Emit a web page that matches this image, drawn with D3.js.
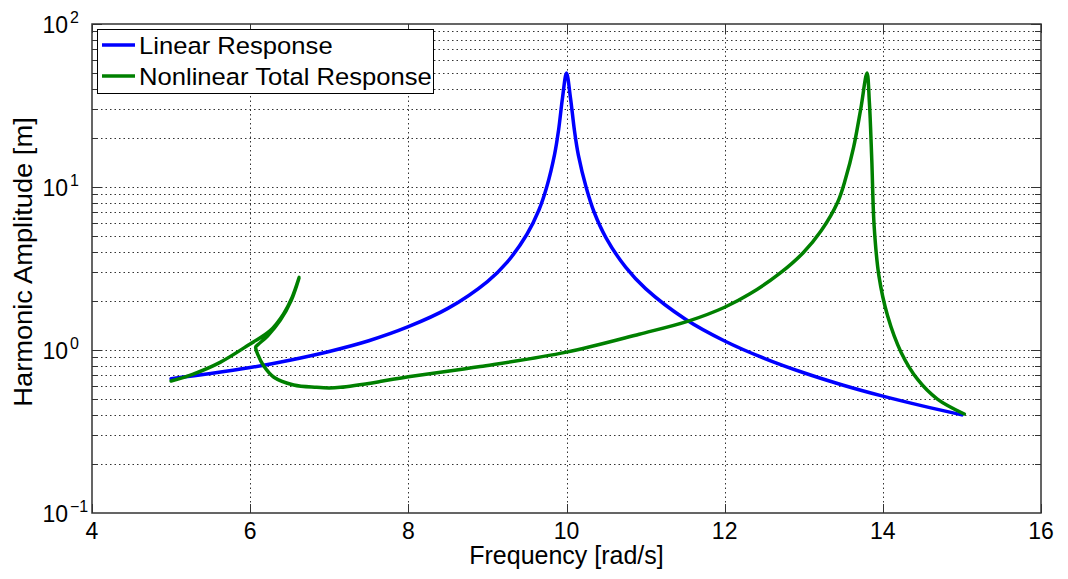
<!DOCTYPE html>
<html>
<head>
<meta charset="utf-8">
<script src="https://d3js.org/d3.v7.min.js"></script>
<style>
  body { margin: 0; background: #fff; }
  text { font-family: "Liberation Sans", Arial, sans-serif; fill: #000; }
</style>
</head>
<body>
<svg width="1068" height="579"></svg>
<script>
// frequency [rad/s] and amplitude [m]
var linearFreq = [5.0, 5.5, 6.0, 6.5, 7.0, 7.5, 8.0, 8.5, 9.0, 9.25, 9.5, 9.65, 9.75, 9.85, 9.9, 9.95, 10.0,
  10.05, 10.1, 10.15, 10.25, 10.35, 10.5, 10.75, 11.0, 11.5, 12.0, 12.5, 13.0, 13.5, 14.0, 14.5, 15.0];
var linearAmp = [0.667, 0.717, 0.78, 0.866, 0.98, 1.14, 1.39, 1.80, 2.63, 3.46, 5.13, 7.2, 10.0, 15.9, 22.4, 35.4, 50,
  35.3, 22.3, 15.7, 9.9, 7.0, 4.88, 3.21, 2.38, 1.55, 1.136, 0.889, 0.725, 0.608, 0.521, 0.454, 0.40];

var nonlinFreq = [5.0, 5.28, 5.62, 6.0, 6.25, 6.42, 6.53, 6.62,
  6.52, 6.38, 6.22, 6.10, 6.07, 6.10, 6.17, 6.30, 6.55, 6.84, 7.0, 7.14, 7.64, 8.0, 8.91, 10.0, 10.92, 11.55,
  12.0, 12.32, 12.70, 12.99, 13.22, 13.43, 13.53, 13.63, 13.72, 13.80,
  13.83, 13.86, 13.89, 13.95, 14.06, 14.23, 14.44, 14.69, 15.03];
var nonlinAmp = [0.645, 0.712, 0.84, 1.09, 1.31, 1.66, 2.10, 2.79,
  2.02, 1.52, 1.22, 1.08, 1.04, 0.93, 0.80, 0.68, 0.61, 0.59, 0.585, 0.59, 0.64, 0.686, 0.792, 0.97, 1.25, 1.51,
  1.83, 2.21, 2.96, 3.94, 5.39, 8.1, 11.3, 17.5, 30, 50,
  33, 14.8, 5.78, 2.86, 1.62, 0.97, 0.66, 0.50, 0.405];

var xTicks = [4, 6, 8, 10, 12, 14, 16];
var yDecades = [-1, 0, 1, 2];
var seriesNames = ["Linear Response", "Nonlinear Total Response"];
var seriesColors = ["#0000ff", "#008000"];

var svg = d3.select("svg");
var pl = 92, pr = 1041, pt = 24, pb = 513;

var x = d3.scaleLinear().domain([4, 16]).range([pl, pr]);
var y = d3.scaleLog().domain([0.1, 100]).range([pb, pt]);

// minor + major horizontal grid
var yGrid = [];
yDecades.slice(0, 3).forEach(function(e) {
  for (var m = 1; m < 10; m++) yGrid.push(m * Math.pow(10, e));
});
yGrid = yGrid.filter(function(v) { return v > 0.1; });

var grid = svg.append("g").attr("stroke", "#333").attr("stroke-width", 1)
  .attr("stroke-dasharray", "1.5,3");
grid.selectAll(".hg").data(yGrid).enter().append("line")
  .attr("x1", pl).attr("x2", pr)
  .attr("y1", function(d) { return Math.round(y(d)) + 0.5; })
  .attr("y2", function(d) { return Math.round(y(d)) + 0.5; });
grid.selectAll(".vg").data(xTicks.slice(1, -1)).enter().append("line")
  .attr("y1", pt).attr("y2", pb)
  .attr("x1", function(d) { return Math.round(x(d)) + 0.5; })
  .attr("x2", function(d) { return Math.round(x(d)) + 0.5; });

// ticks (inward, all four sides)
var ticks = svg.append("g").attr("stroke", "#333").attr("stroke-width", 1);
xTicks.forEach(function(d) {
  var px = Math.round(x(d)) + 0.5;
  ticks.append("line").attr("x1", px).attr("x2", px).attr("y1", pb).attr("y2", pb - 9);
  ticks.append("line").attr("x1", px).attr("x2", px).attr("y1", pt).attr("y2", pt + 9);
});
yGrid.concat([100]).forEach(function(d) {
  var py = Math.round(y(d)) + 0.5;
  var major = Math.abs(Math.log10(d) - Math.round(Math.log10(d))) < 1e-9;
  var len = major ? 10 : 6;
  ticks.append("line").attr("x1", pl).attr("x2", pl + len).attr("y1", py).attr("y2", py);
  ticks.append("line").attr("x1", pr).attr("x2", pr - len).attr("y1", py).attr("y2", py);
});

// axes box
svg.append("rect").attr("x", pl).attr("y", pt)
  .attr("width", pr - pl).attr("height", pb - pt)
  .attr("fill", "none").attr("stroke", "#333").attr("stroke-width", 1.5);

// tick labels
svg.append("g").selectAll("text").data(xTicks).enter().append("text")
  .attr("x", function(d) { return x(d); }).attr("y", 539)
  .attr("text-anchor", "middle").attr("font-size", 23)
  .text(function(d) { return d; });

var yl = svg.append("g");
yDecades.forEach(function(e) {
  var py = y(Math.pow(10, e));
  yl.append("text").attr("x", 68).attr("y", py + 9).attr("text-anchor", "end")
    .attr("font-size", 23).text("10");
  yl.append("text").attr("x", 70).attr("y", py - 1).attr("font-size", 16)
    .text(e < 0 ? "\u2212" + (-e) : e);
});

// axis labels
svg.append("text").attr("x", (pl + pr) / 2).attr("y", 564)
  .attr("text-anchor", "middle").attr("font-size", 25).text("Frequency [rad/s]");
svg.append("text").attr("transform", "translate(32,262) rotate(-90) scale(1.07,1)")
  .attr("text-anchor", "middle").attr("font-size", 25.5).text("Harmonic Amplitude [m]");

// curves
var line = d3.line()
  .x(function(d) { return x(d[0]); })
  .y(function(d) { return y(d[1]); })
  .curve(d3.curveCatmullRom.alpha(0.5));

var series = [d3.zip(linearFreq, linearAmp), d3.zip(nonlinFreq, nonlinAmp)];
svg.append("g").selectAll("path").data(series).enter().append("path")
  .attr("d", line)
  .attr("fill", "none")
  .attr("stroke", function(d, i) { return seriesColors[i]; })
  .attr("stroke-width", 3.5)
  .attr("stroke-linejoin", "round")
  .attr("stroke-linecap", "round");

// legend
var lg = svg.append("g");
lg.append("rect").attr("x", 97.5).attr("y", 29.5).attr("width", 336).attr("height", 64)
  .attr("fill", "#fff").attr("stroke", "#000").attr("stroke-width", 1);
seriesNames.forEach(function(name, i) {
  var ly = 45 + i * 31;
  lg.append("line").attr("x1", 102).attr("x2", 135).attr("y1", ly).attr("y2", ly)
    .attr("stroke", seriesColors[i]).attr("stroke-width", 3.5);
  lg.append("text").attr("transform", "translate(139," + (ly + 9) + ") scale(1.09,1)")
    .attr("font-size", 23.5).text(name);
});
</script>
</body>
</html>
